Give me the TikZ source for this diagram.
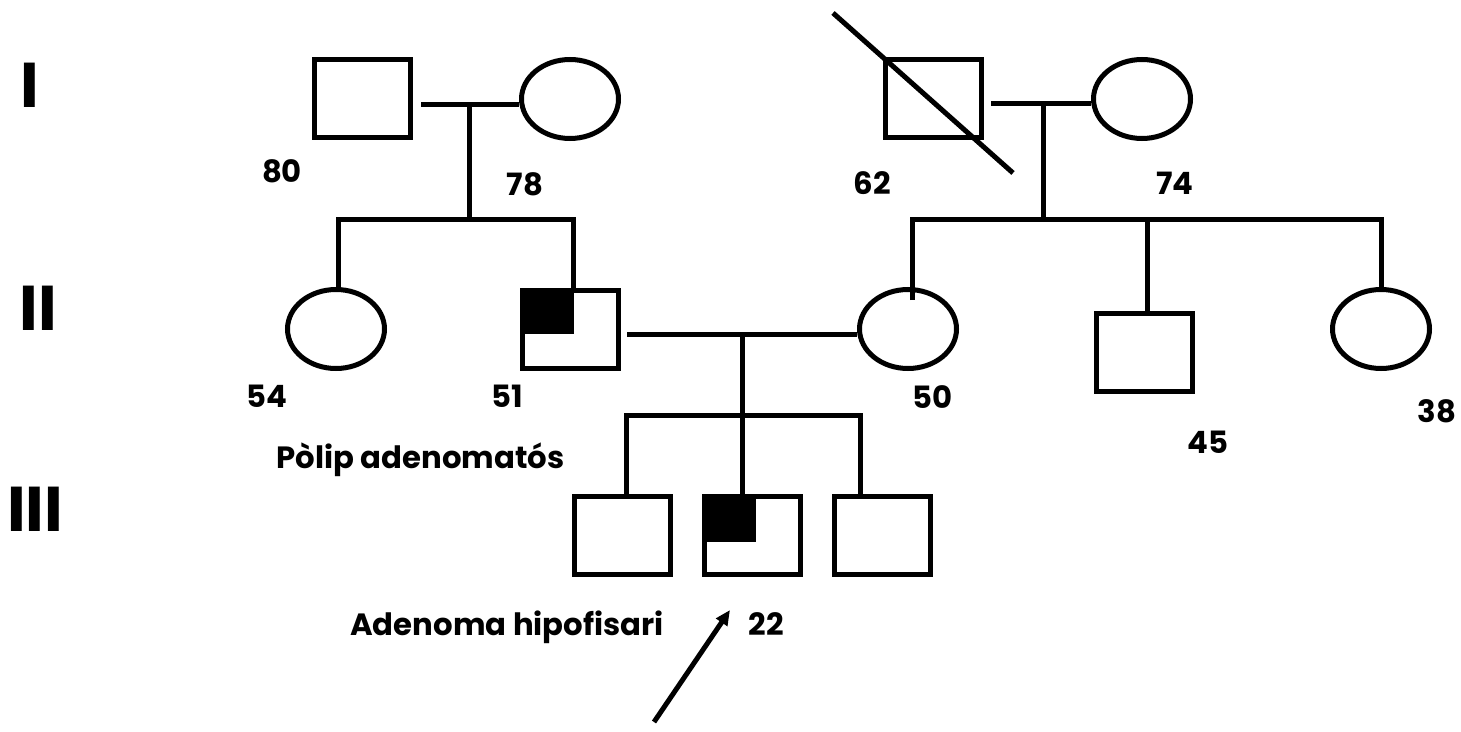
\documentclass[tikz,border=0pt]{standalone}
\usepackage{fontspec}
\setmainfont{Poppins}
\usetikzlibrary{shapes.geometric,arrows.meta}

\begin{document}
\begin{tikzpicture}
	[
	line width=0.1cm,
	male/.style={draw, rectangle, minimum width=1.92cm, minimum height=1.56cm, inner sep=0pt},
	female/.style={draw, ellipse, minimum width=1.94cm, minimum height=1.58cm, inner sep=0pt},
	age/.style={anchor=base, font=\bfseries\fontsize{17.5}{20}\selectfont},
	gen/.style={anchor=base, font=\bfseries\fontsize{36}{40}\selectfont},
	]
		\useasboundingbox (0,0) rectangle (29.22,-14.64);

		% generations
		\node[gen] (gI) at 		( 0.60,  -2.16 ) {I};
		\node[gen] (gII) at 		( 0.76,  -6.60 ) {II};
		\node[gen] (gIII) at 		( 0.70, -10.62 ) {III};

		% first generation
		\node[male] (m1) at 		( 7.24, -1.98 ) {};
		\node[female] (f1) at 		(11.40, -1.98 ) {};
		\node[male] (m2) at 		(18.66, -1.98 ) {};
		\node[female] (f2) at 		(22.84, -1.98 ) {};
		\draw ([shift={(-2.00,1.72)}]m2.center) -- ([shift={(1.60,-1.48)}]m2.center);

		\node[age] (a80) at 		( 5.64, -3.66 ) {80};
		\node[age] (a78) at 		(10.50, -3.92 ) {78};
		\node[age] (a62) at 		(17.44, -3.90 ) {62};
		\node[age] (a74) at 		(23.50, -3.90 ) {74};

		% second generation
		\node[female] (d54) at 		( 6.72, -6.58 ) {};
		\node[male] (s51) at 		(11.40, -6.58 ) {};
		\node[female] (d50) at 		(18.16, -6.58 ) {};
		\node[male] (s45) at 		(22.88, -7.04 ) {};
		\node[female] (d38) at 		(27.62, -6.58 ) {};
		\fill (s51.north west) rectangle ([xshift=0.08cm,yshift=-0.10cm]s51.center);

		\node[age] (a54) at 		( 5.34, -8.14 ) {54};
		\node[age] (a51) at 		(10.14, -8.14 ) {51};
		\node[age] (a50) at 		(18.66, -8.16 ) {50};
		\node[age] (a45) at 		(24.16, -9.06 ) {45};
		\node[age] (a38) at 		(28.74, -8.44 ) {38};
		\node[age] (polip) at 		( 8.41, -9.36 ) {Pòlip adenomatós};

		% third generation
		\node[male] (s3a) at 		(12.44, -10.70 ) {};
		\node[male] (s3b) at 		(15.04, -10.70 ) {};
		\node[male] (s3c) at 		(17.64, -10.70 ) {};
		\fill (s3b.north west) rectangle ([xshift=0.07cm,yshift=-0.13cm]s3b.center);

		\node[age] (a22) at 		(15.32, -12.70 ) {22};
		\node[age] (adenoma) at 	(10.14, -12.70 ) {Adenoma hipofisari};

		% couples and sibships
		\coordinate (mar1) at 		( 9.38, -2.10 );
		\coordinate (mar2) at 		(20.86, -2.08 );
		\coordinate (mar3) at 		(14.84, -6.68 );
		\coordinate (k1l) at 		( 6.76, -4.40 );
		\coordinate (k1r) at 		(11.46, -4.40 );
		\coordinate (k2l) at 		(18.24, -4.40 );
		\coordinate (k2d) at 		(18.24, -6.00 );
		\coordinate (k2m) at 		(22.94, -4.40 );
		\coordinate (k2r) at 		(27.62, -4.40 );
		\coordinate (k3l) at 		(12.52, -8.30 );
		\coordinate (k3r) at 		(17.20, -8.30 );

		\draw ([xshift=0.17cm,yshift=-0.12cm]m1.east) -- ([yshift=-0.12cm]f1.west);
		\draw ([xshift=0.15cm,yshift=-0.10cm]m2.east) -- ([yshift=-0.10cm]f2.west);
		\draw ([xshift=0.13cm,yshift=-0.10cm]s51.east) -- ([yshift=-0.10cm]d50.west);

		\foreach \from/\to in {mar1/k1l,mar2/k2l,k2m/s45.north,mar3/s3b.north} \draw (\from) -- (\from |- \to);

		\draw (k1l |- d54.north) -- (k1l) -- (k1r) -- (k1r |- s51.north);
		\draw (k2d) -- (k2l) -- (k2r) -- (k2r |- d38.north);
		\draw (k3l |- s3a.north) -- (k3l) -- (k3r) -- (k3r |- s3c.north);

		% proband
		\coordinate (pb) at 		(13.08, -14.44 );
		\coordinate (pt) at 		(14.60, -12.20 );
		\draw[-{Triangle[length=0.3cm,width=0.26cm]}] (pb) -- (pt);

	\end{tikzpicture}
\end{document}
